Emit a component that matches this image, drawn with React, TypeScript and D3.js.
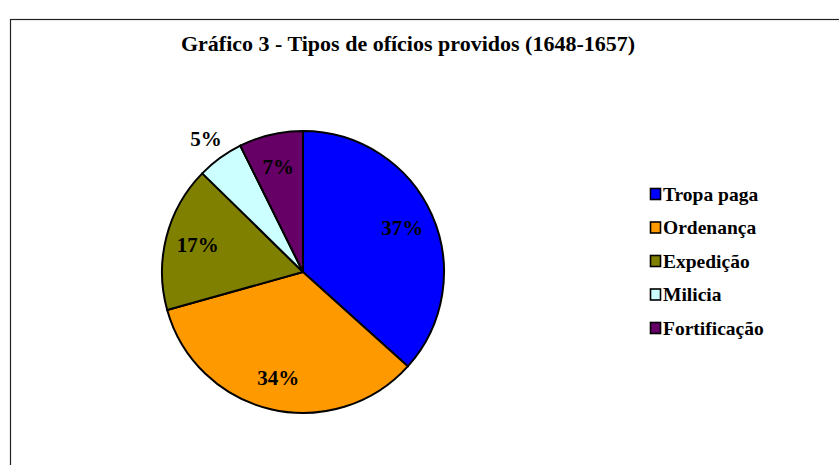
import React from "react";
import * as d3 from "d3";

const categories = ["Tropa paga", "Ordenança", "Expedição", "Milicia", "Fortificação"];
const counts = [55, 51, 25, 8, 11];
const colors = ["#0000FF", "#FF9900", "#808000", "#CCFFFF", "#660066"];
// labels drawn outside the pie
const outside = [false, false, false, true, false];

const width = 839;
const height = 465;
const cx = 303;
const cy = 272;
const radius = 141;

const App = () => {
    const total = d3.sum(counts);

    const pie = d3.pie<number>()
        .sort(null)
        .value(d => d);

    const arcs = pie(counts);

    const arc = d3.arc<d3.PieArcDatum<number>>()
        .innerRadius(0)
        .outerRadius(radius);

    const labelArc = d3.arc<d3.PieArcDatum<number>>()
        .innerRadius(radius * 0.77)
        .outerRadius(radius * 0.77);

    const outerArc = d3.arc<d3.PieArcDatum<number>>()
        .innerRadius(radius * 1.17)
        .outerRadius(radius * 1.17);

    const fmt = d3.format(".0%");

    const legendY = d3.scalePoint<string>()
        .domain(categories)
        .range([194, 328]);

    return (
        <svg
            width={width}
            height={height}
            style={{ position: "absolute", left: 0, top: 0, background: "#fff" }}
            fontFamily="'Liberation Serif', 'Times New Roman', serif"
            fontWeight="bold"
        >
            <rect x={10.5} y={19.5} width={900} height={500} fill="#fff" stroke="#222" strokeWidth={1.2} />

            <text x={408} y={51} textAnchor="middle" fontSize={22}>
                Gráfico 3 - Tipos de ofícios providos (1648-1657)
            </text>

            <g transform={`translate(${cx},${cy})`}>
                {arcs.map((a, i) => (
                    <path key={categories[i]} d={arc(a) ?? ""} fill={colors[i]} stroke="#000" strokeWidth={2} />
                ))}
                {arcs.map((a, i) => {
                    const [x, y] = outside[i] ? outerArc.centroid(a) : labelArc.centroid(a);
                    return (
                        <text key={categories[i]} x={x} y={y} dy="0.35em" textAnchor="middle" fontSize={21}>
                            {fmt(a.data / total)}
                        </text>
                    );
                })}
            </g>

            <g>
                {categories.map((c, i) => (
                    <g key={c} transform={`translate(650,${legendY(c)})`}>
                        <rect x={0.5} y={-5.5} width={10} height={11} fill={colors[i]} stroke="#000" strokeWidth={1.6} />
                        <text x={13} y={0} dy="0.35em" fontSize={19.5}>{c}</text>
                    </g>
                ))}
            </g>
        </svg>
    );
};

export default App;
